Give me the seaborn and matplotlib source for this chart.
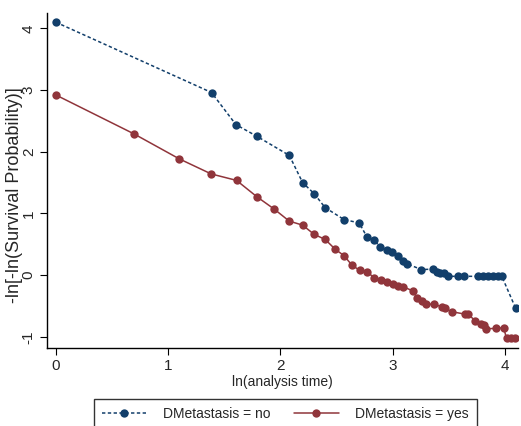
import numpy as np
import pandas as pd
import seaborn as sns
import matplotlib
matplotlib.use('Agg')
import matplotlib.pyplot as plt

sns.set_style('white')
plt.rcParams['font.family'] = ['Liberation Sans', 'DejaVu Sans']

# ln(analysis time) and -ln[-ln(S)]
x_no = [0.0, 1.386, 1.603, 1.790, 2.079, 2.197, 2.300, 2.397, 2.566, 2.701,
        2.771, 2.832, 2.888, 2.945, 2.994, 3.043, 3.090, 3.127, 3.255, 3.360,
        3.390, 3.419, 3.457, 3.493, 3.582, 3.633, 3.760, 3.805, 3.849, 3.894,
        3.938, 3.971, 4.094]
y_no = [4.10, 2.96, 2.44, 2.25, 1.94, 1.50, 1.32, 1.095, 0.90, 0.846,
        0.615, 0.566, 0.458, 0.413, 0.369, 0.316, 0.23, 0.183, 0.089, 0.097,
        0.052, 0.040, 0.040, -0.02, -0.02, -0.02, -0.02, -0.02, -0.02, -0.02,
        -0.02, -0.02, -0.537]

x_yes = [0.0, 0.695, 1.098, 1.383, 1.609, 1.790, 1.944, 2.078, 2.197, 2.300,
         2.398, 2.487, 2.567, 2.638, 2.704, 2.769, 2.835, 2.891, 2.947, 2.998,
         3.043, 3.093, 3.176, 3.217, 3.262, 3.295, 3.363, 3.434, 3.464, 3.526,
         3.639, 3.669, 3.734, 3.782, 3.811, 3.829, 3.915, 3.987, 4.013, 4.049,
         4.087]
y_yes = [2.92, 2.29, 1.885, 1.64, 1.535, 1.27, 1.07, 0.875, 0.81, 0.66,
         0.578, 0.42, 0.313, 0.157, 0.08, 0.054, -0.043, -0.08, -0.108, -0.146,
         -0.173, -0.19, -0.254, -0.367, -0.416, -0.475, -0.47, -0.513, -0.54, -0.594,
         -0.632, -0.632, -0.74, -0.79, -0.815, -0.87, -0.865, -0.853, -1.026, -1.026,
         -1.026]

x_ticks = [0, 1, 2, 3, 4]
y_ticks = [-1, 0, 1, 2, 3, 4]

navy = '#123f6b'
maroon = '#90353b'

df_no = pd.DataFrame({'x': x_no, 'y': y_no})
df_yes = pd.DataFrame({'x': x_yes, 'y': y_yes})

fig = plt.figure(figsize=(5.21, 4.26), dpi=100)
ax = fig.add_axes([0.090, 0.183, 0.904, 0.786])

sns.lineplot(data=df_no, x='x', y='y', ax=ax, sort=False, color=navy,
             linestyle=(0, (2.2, 1.6)), linewidth=1.1, marker='o',
             markersize=6, markeredgewidth=0, label='DMetastasis = no')
sns.lineplot(data=df_yes, x='x', y='y', ax=ax, sort=False, color=maroon,
             linewidth=1.1, marker='o', markersize=6, markeredgewidth=0,
             label='DMetastasis = yes')

ax.set_xlim(-0.08, 4.114)
ax.set_ylim(-1.183, 4.246)
ax.set_xticks(x_ticks)
ax.set_yticks(y_ticks)
ax.set_yticklabels([str(v) for v in y_ticks], rotation=90, va='center')
ax.tick_params(axis='both', direction='out', length=5, width=0.8,
               color='black', labelsize=11, pad=3, left=True, bottom=True)
for side in ['top', 'right']:
    ax.spines[side].set_visible(False)
for side in ['left', 'bottom']:
    ax.spines[side].set_color('black')
    ax.spines[side].set_linewidth(1.0)

ax.set_xlabel('ln(analysis time)', fontsize=10, labelpad=1)
ax.set_ylabel('-ln[-ln(Survival Probability)]', fontsize=13)
ax.yaxis.set_label_coords(-0.051, 0.457)

handles, labels = ax.get_legend_handles_labels()
ax.get_legend().remove()
leg = fig.legend(handles, labels, loc='upper center', ncol=2,
                 bbox_to_anchor=(0.548, 0.0634), fontsize=10, frameon=True,
                 fancybox=False, edgecolor='black', handlelength=3.2,
                 handletextpad=1.2, columnspacing=1.7, borderpad=0.6,
                 borderaxespad=0)
leg.get_frame().set_linewidth(1.0)

fig.savefig('out.png', dpi=100)
